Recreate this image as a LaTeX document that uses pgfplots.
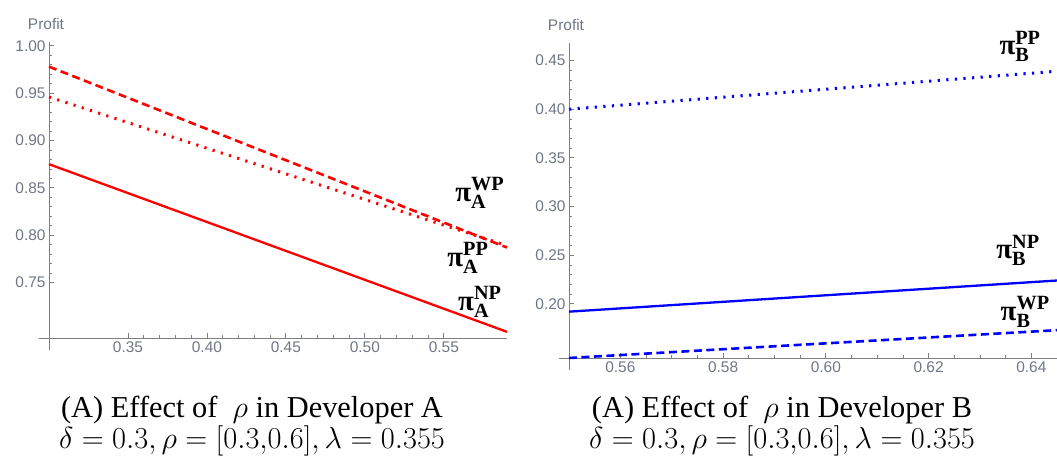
\RequirePackage{fix-cm}
\documentclass[border=0pt]{standalone}
\usepackage{amsmath}
\usepackage{fontspec}
\setmainfont{Liberation Serif}
\setsansfont{Liberation Sans}
\usepackage{pgfplots}
\pgfplotsset{compat=1.18}
\definecolor{tickgray}{RGB}{112,118,134}
\definecolor{axisgray}{RGB}{128,128,128}
\pgfplotsset{
  mstyle/.style={
    scale only axis, clip=false,
    axis lines*=left,
    axis line style={-, draw=axisgray, line width=0.9bp},
    x axis line style={shorten <=-10bp},
    y axis line style={shorten <=-12bp},
    tick align=inside,
    major tick length=5bp, minor tick length=3bp,
    every tick/.style={draw=axisgray, line width=0.8bp},
    ticklabel style={font=\sffamily\fontsize{15.5}{18}\selectfont, text=tickgray},
    /pgf/number format/assume math mode=true,
    /pgf/number format/.cd, fixed, fixed zerofill, precision=2, /pgfplots/.cd,
    ylabel={Profit},
    every axis y label/.style={at={(axis description cs:0,1)}, anchor=south, yshift=9bp, xshift=-3bp, font=\sffamily\fontsize{15.5}{18}\selectfont, text=tickgray},
    every axis plot/.append style={line width=2.3bp},
    dotsty/.style={line width=3bp, dash pattern=on 2.2bp off 6.4bp},
    dashsty/.style={line width=2.6bp, dash pattern=on 8bp off 4.5bp},
  },
}
\tikzset{pilab/.style={font=\bfseries\fontsize{29}{32}\selectfont, text=black}}
\newcommand{\pil}[2]{π$_{\text{#1}}^{\text{#2}}$}
\begin{document}
\begin{tikzpicture}
\path[use as bounding box] (0,0) rectangle (1057bp,460bp);
% Left panel
\begin{axis}[mstyle,
  at={(49bp,122bp)}, anchor=south west,
  width=458bp, height=296bp,
  xmin=0.30, xmax=0.59, ymin=0.6915, ymax=1.004,
  xtick={0.35,0.40,0.45,0.50,0.55},
  ytick={0.75,0.80,0.85,0.90,0.95,1.00},
  minor x tick num=4, minor y tick num=4,
]
\addplot[red, dashsty] coordinates {(0.30,0.978) (0.59,0.787)};
\addplot[red, dotsty] coordinates {(0.30,0.946) (0.59,0.789)};
\addplot[red] coordinates {(0.30,0.875) (0.59,0.698)};
\node[pilab] at (axis cs:0.5728,0.8447) {\pil{A}{WP}};
\node[pilab] at (axis cs:0.5652,0.776) {\pil{A}{PP}};
\node[pilab] at (axis cs:0.5728,0.7296) {\pil{A}{NP}};
\end{axis}
% Right panel
\begin{axis}[mstyle,
  at={(569bp,102bp)}, anchor=south west,
  width=488bp, height=315bp,
  xmin=0.55, xmax=0.645, ymin=0.1444, ymax=0.468,
  xtick={0.56,0.58,0.60,0.62,0.64},
  ytick={0.20,0.25,0.30,0.35,0.40,0.45},
  minor x tick num=3, minor y tick num=4,
]
\addplot[blue, dotsty] coordinates {(0.55,0.400) (0.645,0.439)};
\addplot[blue] coordinates {(0.55,0.192) (0.645,0.224)};
\addplot[blue, dashsty] coordinates {(0.55,0.1444) (0.645,0.173)};
\node[pilab] at (axis cs:0.6378,0.4644) {\pil{B}{PP}};
\node[pilab] at (axis cs:0.6374,0.2551) {\pil{B}{NP}};
\node[pilab] at (axis cs:0.6388,0.1918) {\pil{B}{WP}};
\end{axis}
% Captions
\node[align=center, font=\fontsize{30.5}{30.5}\selectfont] at (252bp,34bp)
  {(A) Effect of \ $\rho$ in Developer A\\ $\delta=0.3,\rho=[0.3{,}0.6],\lambda=0.355$};
\node[align=center, font=\fontsize{30.5}{30.5}\selectfont] at (782bp,34bp)
  {(A) Effect of \ $\rho$ in Developer B\\ $\delta=0.3,\rho=[0.3{,}0.6],\lambda=0.355$};
\end{tikzpicture}
\end{document}
